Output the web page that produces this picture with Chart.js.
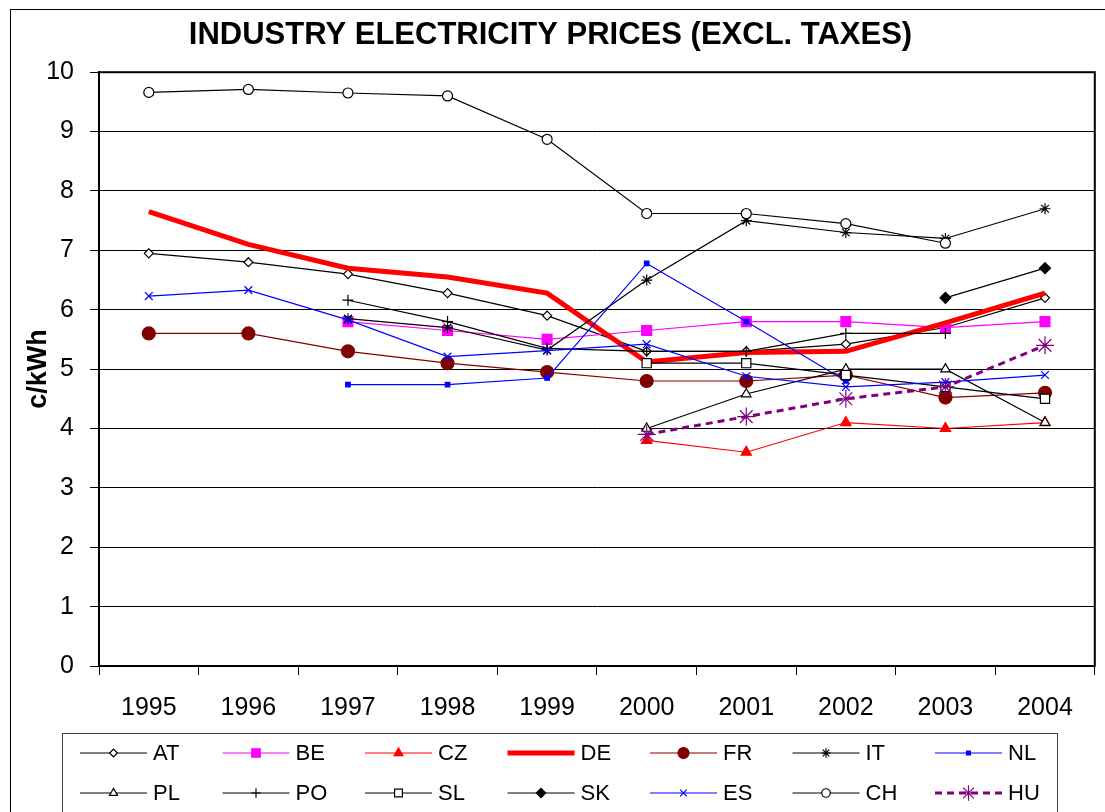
<!DOCTYPE html>
<html>
<head>
<meta charset="utf-8">
<script src="https://cdn.jsdelivr.net/npm/chart.js@4/dist/chart.umd.min.js"></script>
<style>
  body { margin: 0; background: #fff; }
  canvas { display: block; }
</style>
</head>
<body>
<canvas id="priceChart" width="1105" height="812"></canvas>
<script>
// years and prices (c/kWh)
const years = ['1995', '1996', '1997', '1998', '1999', '2000', '2001', '2002', '2003', '2004'];
const AT = [6.95, 6.8, 6.6, 6.28, 5.9, 5.3, 5.3, 5.42, 5.7, 6.2];
const BE = [null, null, 5.8, 5.65, 5.5, 5.65, 5.8, 5.8, 5.7, 5.8];
const CZ = [null, null, null, null, null, 3.8, 3.6, 4.1, 4.0, 4.1];
const DE = [7.65, 7.1, 6.7, 6.55, 6.28, 5.12, 5.28, 5.3, 5.78, 6.28];
const FR = [5.6, 5.6, 5.3, 5.1, 4.95, 4.8, 4.8, 4.9, 4.52, 4.6];
const IT = [null, null, 5.85, 5.7, 5.32, 6.5, 7.5, 7.3, 7.2, 7.7];
const NL = [null, null, 4.74, 4.74, 4.85, 6.78, 5.8, 4.8, null, null];
const PL = [null, null, null, null, null, 4.0, 4.58, 5.0, 5.0, 4.1];
const PO = [null, null, 6.16, 5.8, 5.35, 5.3, 5.3, 5.6, 5.6, null];
const SL = [null, null, null, null, null, 5.1, 5.1, 4.9, 4.7, 4.5];
const SK = [null, null, null, null, null, null, null, null, 6.2, 6.7];
const ES = [6.23, 6.33, 5.83, 5.21, 5.31, 5.42, 4.88, 4.7, 4.78, 4.9];
const CH = [9.66, 9.71, 9.65, 9.6, 8.87, 7.62, 7.62, 7.45, 7.12, null];
const HU = [null, null, null, null, null, 3.9, 4.2, 4.5, 4.7, 5.4];
const yTicks = [0, 1, 2, 3, 4, 5, 6, 7, 8, 9, 10];

function series(label, data, color, style, radius, fill, width, dash) {
    return {
        label: label,
        data: data,
        borderColor: color,
        borderWidth: width || 1.2,
        borderDash: dash || [],
        pointStyle: style,
        pointRadius: radius,
        pointBackgroundColor: fill,
        pointBorderColor: color,
        pointBorderWidth: 1.2,
        tension: 0,
        spanGaps: false
    };
}

const datasets = [
    series('AT', AT, '#000000', 'rectRot', 4.5, '#ffffff'),
    series('BE', BE, '#ff00ff', 'rect', 7, '#ff00ff'),
    series('CZ', CZ, '#ff0000', 'triangle', 6, '#ff0000'),
    series('DE', DE, '#ff0000', false, 0, '#ff0000', 5),
    series('FR', FR, '#800000', 'circle', 6.5, '#800000'),
    series('IT', IT, '#000000', 'star', 5.5, '#000000'),
    series('NL', NL, '#0000ff', 'rect', 3.2, '#0000ff'),
    series('PL', PL, '#000000', 'triangle', 5.5, '#ffffff'),
    series('PO', PO, '#000000', 'cross', 5.5, '#000000'),
    series('SL', SL, '#000000', 'rect', 6.5, '#ffffff'),
    series('SK', SK, '#000000', 'rectRot', 5.5, '#000000'),
    series('ES', ES, '#0000ff', 'crossRot', 5.5, '#0000ff'),
    series('CH', CH, '#000000', 'circle', 5, '#ffffff'),
    series('HU', HU, '#800080', 'star', 9, '#800080', 3, [7, 5])
];
// later series drawn on top, like the original
datasets.forEach((d, i) => { d.order = -i; });

// white page, outer frame and plot border
const frame = {
    id: 'frame',
    beforeDraw(chart) {
        const c = chart.ctx;
        c.save();
        c.fillStyle = '#fff';
        c.fillRect(0, 0, chart.width, chart.height);
        c.strokeStyle = '#000';
        c.lineWidth = 1;
        c.strokeRect(10.5, 9.5, 1200, 900);
        c.restore();
    },
    beforeDatasetsDraw(chart) {
        const a = chart.chartArea, c = chart.ctx;
        c.save();
        c.strokeStyle = '#000';
        c.lineWidth = 2;
        c.strokeRect(a.left, a.top, a.right - a.left, a.bottom - a.top);
        c.restore();
    }
};

// boxed legend, 7 columns x 2 rows
const gridLegend = {
    id: 'gridLegend',
    afterDraw(chart) {
        const c = chart.ctx;
        c.save();
        c.strokeStyle = '#404040';
        c.lineWidth = 1;
        c.strokeRect(62.5, 733.5, 995, 120);
        chart.data.datasets.forEach((ds, i) => {
            const x = 80 + (i % 7) * 142.5;
            const y = 753 + Math.floor(i / 7) * 40;
            c.beginPath();
            c.setLineDash(ds.borderDash);
            c.strokeStyle = ds.borderColor;
            c.lineWidth = ds.borderWidth;
            c.moveTo(x, y);
            c.lineTo(x + 67, y);
            c.stroke();
            c.setLineDash([]);
            if (ds.pointRadius > 0) {
                c.fillStyle = ds.pointBackgroundColor;
                c.strokeStyle = ds.pointBorderColor;
                c.lineWidth = ds.pointBorderWidth;
                Chart.helpers.drawPoint(c, {
                    pointStyle: ds.pointStyle,
                    radius: ds.pointRadius * 0.85,
                    rotation: 0,
                    borderWidth: ds.pointBorderWidth
                }, x + 33.5, y);
            }
            c.fillStyle = '#000';
            c.font = '22px Arial, "Liberation Sans"';
            c.textBaseline = 'middle';
            c.textAlign = 'left';
            c.fillText(ds.label, x + 73, y + 1);
        });
        c.restore();
    }
};

new Chart(document.getElementById('priceChart'), {
    type: 'line',
    data: { labels: years, datasets: datasets },
    plugins: [frame, gridLegend],
    options: {
        responsive: false,
        animation: false,
        layout: { padding: { left: 0, right: 4, top: 0, bottom: 0 } },
        plugins: {
            legend: { display: false },
            tooltip: { enabled: false },
            title: {
                display: true,
                text: 'INDUSTRY ELECTRICITY PRICES (EXCL. TAXES)',
                color: '#000',
                font: { family: 'Arial, "Liberation Sans"', size: 31, weight: 'bold' },
                padding: { top: 17, bottom: 18 }
            }
        },
        scales: {
            x: {
                type: 'category',
                offset: true,
                grid: { offset: true, drawOnChartArea: false, drawTicks: true, tickLength: 9, color: '#000' },
                border: { display: true, color: '#000', width: 1.5 },
                ticks: { color: '#000', padding: 18, maxRotation: 0, font: { family: 'Arial, "Liberation Sans"', size: 25 } },
                afterFit(scale) { scale.height = 146; }
            },
            y: {
                min: 0,
                max: 10,
                afterBuildTicks(scale) { scale.ticks = yTicks.map(v => ({ value: v })); },
                grid: { color: '#000', lineWidth: 1, tickLength: 9 },
                border: { display: true, color: '#000', width: 2 },
                ticks: { color: '#000', padding: 16, font: { family: 'Arial, "Liberation Sans"', size: 25 } },
                title: {
                    display: true,
                    text: 'c/kWh',
                    color: '#000',
                    font: { family: 'Arial, "Liberation Sans"', size: 27, weight: 'bold' },
                    padding: { top: 22, bottom: 0 }
                },
                afterFit(scale) { scale.width = 99; }
            }
        }
    }
});
</script>
</body>
</html>
